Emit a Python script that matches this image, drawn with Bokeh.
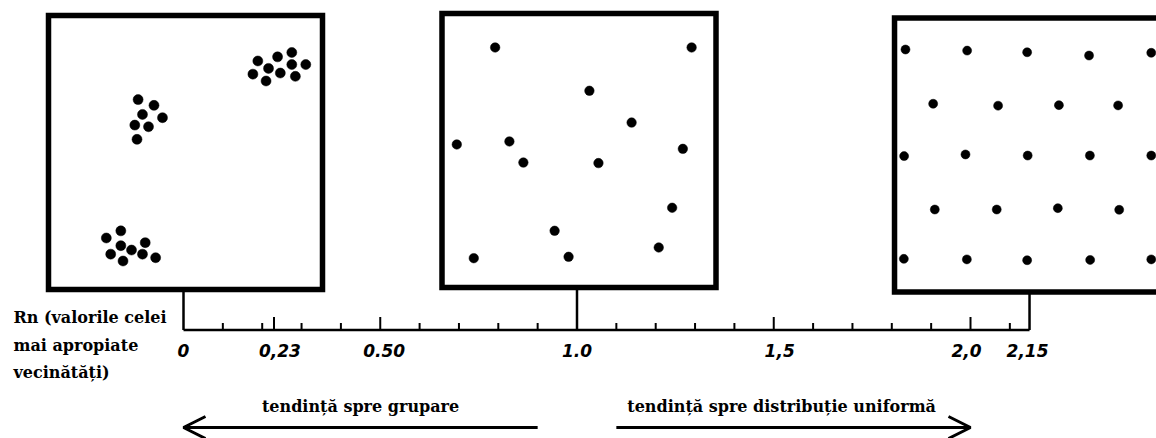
from bokeh.plotting import figure
from bokeh.models import Range1d, Arrow, OpenHead
from bokeh.core.properties import value
from bokeh.embed import file_html
from bokeh.resources import INLINE

# ---------------- data ----------------
# Rn values at which the three example patterns sit
panel_rn = [0.0, 1.0, 2.15]

# scale ticks
tick_minor = [0.1, 0.2, 0.3, 0.4, 0.6, 0.7, 0.8, 0.9, 1.1, 1.2, 1.3, 1.4,
              1.6, 1.7, 1.8, 1.9, 2.1]
tick_major = [0.23, 0.5, 1.5, 2.0]
tick_labels = ["0", "0,23", "0.50", "1.0", "1,5", "2,0", "2,15"]
tick_label_rn = [0.0, 0.245, 0.51, 1.0, 1.515, 1.99, 2.145]

# point patterns inside each square (0..100 panel units, origin bottom-left)
clustered_u = [76.4, 83.6, 88.8, 80.3, 88.8, 93.9, 74.6, 84.6, 90.1, 79.4,
               32.7, 38.5, 34.3, 41.6, 31.5, 36.5, 32.3,
               26.4, 21.1, 35.3, 26.4, 30.3, 22.7, 34.3, 39.1, 27.2]
clustered_v = [83.4, 84.9, 86.5, 80.7, 82.1, 82.1, 78.6, 79.0, 77.8, 76.1,
               69.3, 67.2, 63.9, 62.7, 60.0, 59.4, 54.8,
               21.4, 18.8, 17.1, 16.0, 14.4, 12.9, 12.9, 11.6, 10.4]

random_u = [19.4, 91.1, 53.8, 69.2, 5.4, 24.6, 87.9, 29.7, 57.1, 84.0,
            41.1, 79.1, 11.6, 46.2]
random_v = [87.6, 87.6, 71.8, 60.2, 52.2, 53.3, 50.6, 45.6, 45.4, 29.1,
            20.7, 14.6, 10.7, 11.2]

uniform_u = [4.0, 26.5, 48.4, 71.0, 93.7,
             14.1, 37.8, 60.0, 81.6,
             3.5, 25.9, 48.6, 71.3, 93.7,
             14.7, 37.3, 59.6, 82.0,
             3.4, 26.4, 48.4, 71.4, 93.7]
uniform_v = [88.5, 88.1, 87.5, 86.3, 87.3,
             68.7, 68.0, 68.2, 68.1,
             49.6, 50.2, 49.8, 49.8, 49.8,
             30.1, 30.1, 30.6, 30.0,
             12.1, 11.9, 11.6, 11.7, 11.9]

axis_title = ["Rn (valorile celei", "mai apropiate", "vecinătăți)"]
trend_text = ["tendință spre grupare", "tendință spre distribuție uniformă"]
trend_rn = [0.45, 1.52]
arrow_left = (0.9, 0.0)
arrow_right = (1.1, 2.0)

# ---------------- layout / style ----------------
W, H = 1156, 438
PX = 393.5              # screen pixels per Rn unit
RN0 = 183               # screen x of Rn = 0
BOX = 274               # square size in px
BOX_DX = 2              # squares sit 2px right of their stem
panel_cy = [286, 288, 283.5]
dot_size = [10, 9.5, 9]
AXIS_Y = 108.5

p = figure(width=W, height=H, output_backend="svg", toolbar_location=None,
           x_range=Range1d(-RN0 / PX, (W - RN0) / PX), y_range=Range1d(0, H),
           x_axis_location=None, y_axis_location=None, min_border=0)
p.grid.visible = False
p.outline_line_color = None
p.background_fill_color = "white"

box_cx = [rn + BOX_DX / PX for rn in panel_rn]

# squares
p.rect(x=box_cx, y=panel_cy, width=BOX, height=BOX, width_units="screen",
       height_units="screen", fill_color=None, line_color="black",
       line_width=5.5, line_join="miter")

# dots
for cx, cy, sz, us, vs in zip(box_cx, panel_cy, dot_size,
                              [clustered_u, random_u, uniform_u],
                              [clustered_v, random_v, uniform_v]):
    xs = [cx + (u / 100 * BOX - BOX / 2) / PX for u in us]
    ys = [cy - BOX / 2 + v / 100 * BOX for v in vs]
    p.scatter(x=xs, y=ys, size=sz, marker="circle", fill_color="black",
              line_color="black", line_width=0.5)

# stems from squares to the scale
p.segment(x0=panel_rn, y0=[cy - BOX / 2 for cy in panel_cy], x1=panel_rn,
          y1=AXIS_Y, line_color="black", line_width=2.5)

# scale line and ticks
p.line(x=[panel_rn[0], panel_rn[-1]], y=[AXIS_Y, AXIS_Y], line_color="black",
       line_width=2.5)
p.segment(x0=tick_minor, y0=AXIS_Y, x1=tick_minor, y1=AXIS_Y + 7,
          line_color="black", line_width=2)
p.segment(x0=tick_major, y0=AXIS_Y, x1=tick_major, y1=AXIS_Y + 13,
          line_color="black", line_width=2)

p.text(x=tick_label_rn, y=88, text=tick_labels,
       text_font=value("DejaVu Sans"), text_font_style="bold italic",
       text_font_size="17px", text_align="center", text_baseline="middle",
       text_color="black")

# axis title
p.text(x=(13 - RN0) / PX, y=[121, 93, 66], text=axis_title,
       text_font=value("DejaVu Serif"), text_font_style="bold",
       text_font_size="16px", text_align="left", text_baseline="middle",
       text_color="black")

# trend texts
p.text(x=trend_rn, y=32, text=trend_text, text_font=value("DejaVu Serif"),
       text_font_style="bold", text_font_size="16px", text_align="center",
       text_baseline="middle", text_color="black")

for a in (arrow_left, arrow_right):
    p.add_layout(Arrow(x_start=a[0], y_start=11, x_end=a[1], y_end=11,
                       line_width=3, line_color="black",
                       end=OpenHead(size=22, line_width=3, line_color="black")))

open("out.html", "w").write(file_html(p, INLINE))
